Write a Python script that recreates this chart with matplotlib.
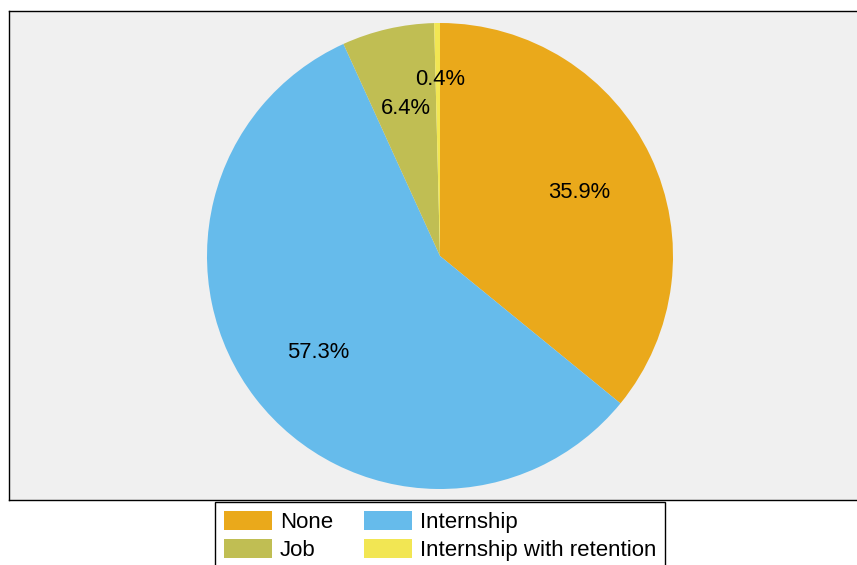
import numpy as np
import matplotlib
matplotlib.use("Agg")
import matplotlib.pyplot as plt
from matplotlib.patches import Patch

# slice data, clockwise from 12 o'clock
labels = ["None", "Internship", "Job", "Internship with retention"]
shares = [35.9, 57.3, 6.4, 0.4]
colors = ["#EAA91B", "#66BBEB", "#C0BE53", "#F2E653"]

plt.rcParams["font.family"] = ["Liberation Sans", "DejaVu Sans"]

W, H = 857, 565
fig = plt.figure(figsize=(W / 100, H / 100), dpi=100)

# axes box in pixels: left 9, top 11, bottom 500, right runs off the figure
left, top, bottom, right = 9, 11, 500, 866
ax = fig.add_axes([left / W, 1 - bottom / H, (right - left) / W, (bottom - top) / H])

wedges, texts, autotexts = ax.pie(
    shares, colors=colors, startangle=90, counterclock=False,
    autopct="%1.1f%%", pctdistance=0.66,
    wedgeprops=dict(linewidth=0), textprops=dict(fontsize=15.8, color="black"),
)
for t in autotexts:
    t.set_va("center_baseline")

# the tiny slice label sits a bit further out
w = wedges[3]
mid = np.deg2rad((w.theta1 + w.theta2) / 2)
autotexts[3].set_position((0.77 * np.cos(mid), 0.77 * np.sin(mid)))
autotexts[3].set_ha("left")
autotexts[3].set_x(-0.105)

# pie centre at (440, 256) px, radius 233 px
cx, cy, r = 440, 256, 233
ax.set_xlim((left - cx) / r, (right - cx) / r)
ax.set_ylim((cy - bottom) / r, (cy - top) / r)
ax.set_aspect("auto")
ax.set_frame_on(True)
ax.set_facecolor("#F0F0F0")
ax.set_xticks([])
ax.set_yticks([])
for s in ax.spines.values():
    s.set_visible(True)
    s.set_color("black")
    s.set_linewidth(1.0)

# legend: column-first order gives None/Job, Internship/Internship with retention
order = [0, 2, 1, 3]
handles = [Patch(facecolor=colors[i], edgecolor="none") for i in order]
leg = fig.legend(
    handles, [labels[i] for i in order], ncol=2,
    loc="upper center", bbox_to_anchor=(440 / W, 1 - 502 / H), borderaxespad=0,
    prop=dict(size=16), frameon=True, fancybox=False, framealpha=1,
    handlelength=2.15, handleheight=0.95, handletextpad=0.36,
    columnspacing=1.4, borderpad=0.4, labelspacing=0.25,
)
leg.get_frame().set_edgecolor("black")
leg.get_frame().set_linewidth(1.0)

fig.savefig("out.png", dpi=100)
